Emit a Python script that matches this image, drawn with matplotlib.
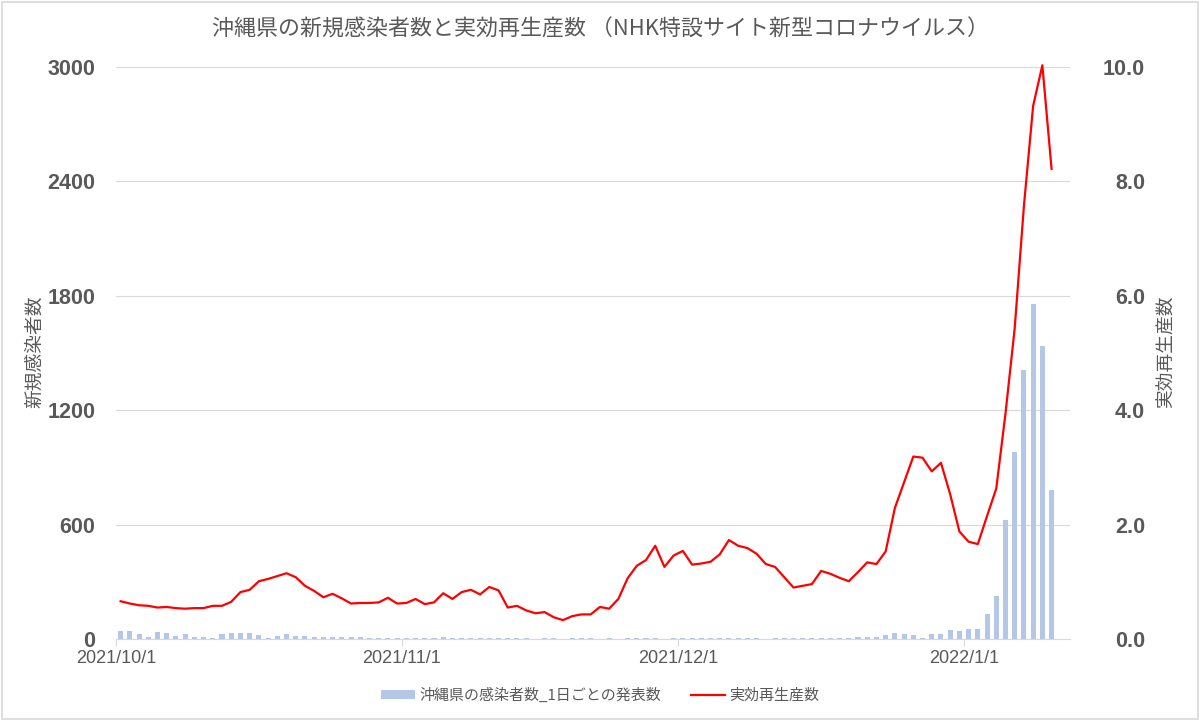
import numpy as np
import pandas as pd
import matplotlib
matplotlib.use('Agg')
import matplotlib.pyplot as plt
import matplotlib.dates as mdates
from matplotlib.patches import Rectangle, Patch
from matplotlib.lines import Line2D

# daily data, 2021/10/1 .. 2022/1/10
start = '2021-10-01'
cases_oct = [40, 44, 26, 9, 38, 30, 14, 26, 12, 12, 5, 26, 30, 30, 30, 23, 7, 14,
             26, 17, 17, 12, 10, 12, 10, 8, 12, 5, 3, 7, 3]
cases_nov = [3, 7, 3, 3, 10, 3, 3, 3, 4, 3, 3, 3, 3, 3, 0, 3, 3, 2, 3, 3,
             3, 2, 3, 0, 3, 3, 3, 3, 2, 3]
cases_dec = [3, 3, 3, 3, 3, 3, 3, 3, 3, 2, 3, 3, 3, 3, 3, 3, 3, 3, 3,
             8, 10, 8, 22, 30, 26, 22, 6, 26, 26, 46, 44]
cases_jan = [51, 51, 132, 223, 623, 983, 1411, 1759, 1535, 780]

rt = [0.66, 0.62, 0.59, 0.58, 0.55, 0.56, 0.54, 0.53, 0.54, 0.54, 0.58, 0.58, 0.65,
      0.82, 0.86, 1.01, 1.05, 1.10, 1.15, 1.08, 0.93, 0.84, 0.73, 0.79, 0.71, 0.62,
      0.63, 0.63, 0.64, 0.72, 0.62, 0.63, 0.70, 0.61, 0.64, 0.80, 0.70, 0.82, 0.86,
      0.78, 0.91, 0.85, 0.55, 0.58, 0.50, 0.45, 0.47, 0.38, 0.33, 0.40, 0.43, 0.43,
      0.56, 0.53, 0.70, 1.06, 1.28, 1.38, 1.63, 1.26, 1.46, 1.54, 1.30, 1.32, 1.35,
      1.48, 1.73, 1.63, 1.59, 1.49, 1.31, 1.26, 1.08, 0.90, 0.93, 0.96, 1.19, 1.14,
      1.07, 1.01, 1.17, 1.34, 1.31, 1.53, 2.29, 2.74, 3.19, 3.17, 2.93, 3.08, 2.53,
      1.88, 1.70, 1.66, 2.15, 2.63, 3.94, 5.43, 7.57, 9.32, 10.03, 8.22]

cases = cases_oct + cases_nov + cases_dec + cases_jan
dates = pd.date_range(start, periods=len(cases), freq='D')

left_ticks = [0, 600, 1200, 1800, 2400, 3000]
right_ticks = [0, 2, 4, 6, 8, 10]
month_ticks = ['2021-10-01', '2021-11-01', '2021-12-01', '2022-01-01']

bar_label = '沖縄県の感染者数_1日ごとの発表数'
line_label = '実効再生産数'
title = '沖縄県の新規感染者数と実効再生産数 （NHK特設サイト新型コロナウイルス）'

BAR_C = '#b4c7e7'
LINE_C = '#ff0000'
TXT_C = '#595959'
GRID_C = '#d9d9d9'
CJK = ['Noto Sans CJK JP', 'DejaVu Sans']
NUM = 'Liberation Sans'

fig = plt.figure(figsize=(12, 7.21), dpi=100)
ax = fig.add_axes([116 / 1200, 1 - 639 / 721, (1070 - 116) / 1200, (639 - 67) / 721])
ax2 = ax.twinx()

x = mdates.date2num(dates) + 0.5
ax.bar(x, cases, width=0.55, color=BAR_C, zorder=2)
ax2.plot(x, rt, color=LINE_C, lw=1.6, zorder=3, clip_on=False)

x0 = mdates.date2num(pd.Timestamp(start))
ax.set_xlim(x0, x0 + 103.5)
ax.set_ylim(0, 3000)
ax2.set_ylim(0, 10)

ax.set_yticks(left_ticks)
ax.set_yticklabels([str(v) for v in left_ticks])
ax2.set_yticks(right_ticks)
ax2.set_yticklabels([f'{v:.1f}' for v in right_ticks])

ax.set_xticks(mdates.date2num(pd.to_datetime(month_ticks)))
ax.set_xticklabels([pd.Timestamp(d).strftime('%Y/%-m/%-d') for d in month_ticks])

for a in (ax, ax2):
    for s in a.spines.values():
        s.set_visible(False)
ax.spines['bottom'].set_visible(True)
ax.spines['bottom'].set_color(GRID_C)

ax.grid(axis='y', color=GRID_C, lw=0.8, zorder=0)
ax.set_axisbelow(True)

ax.tick_params(axis='y', length=0, pad=15, labelcolor=TXT_C)
ax2.tick_params(axis='y', length=0, pad=54, labelcolor=TXT_C)
ax.tick_params(axis='x', length=5, color=GRID_C, pad=3, labelcolor=TXT_C)
for lab in ax.get_yticklabels() + ax2.get_yticklabels():
    lab.set_fontfamily(NUM)
    lab.set_fontweight('bold')
    lab.set_fontsize(15.5)
for lab in ax2.get_yticklabels():
    lab.set_horizontalalignment('right')
for lab in ax.get_xticklabels():
    lab.set_fontfamily(NUM)
    lab.set_fontsize(13)

fig.text(35 / 1200, 1 - 352 / 721, '新規感染者数', rotation=90, ha='center', va='center',
         fontsize=13.5, color=TXT_C, family=CJK)
fig.text(1166 / 1200, 1 - 352 / 721, '実効再生産数', rotation=90, ha='center', va='center',
         fontsize=13.5, color=TXT_C, family=CJK)
fig.text(601 / 1200, 1 - 30 / 721, title, ha='center', va='center',
         fontsize=15.8, color=TXT_C, family=CJK)

handles = [Patch(facecolor=BAR_C, edgecolor='none'),
           Line2D([0], [0], color=LINE_C, lw=1.6)]
leg = fig.legend(handles, [bar_label, line_label], loc='center', ncol=2,
                 bbox_to_anchor=(0.5, 1 - 695 / 721), frameon=False,
                 prop={'family': CJK, 'size': 10.8}, handlelength=2.3,
                 handleheight=0.5, handletextpad=0.25, columnspacing=2.0)
for t in leg.get_texts():
    t.set_color(TXT_C)

fig.patches.append(Rectangle((0.002, 0.003), 0.996, 0.994, transform=fig.transFigure,
                             fill=False, edgecolor=GRID_C, lw=1.2))

fig.savefig('out.png', dpi=100)
